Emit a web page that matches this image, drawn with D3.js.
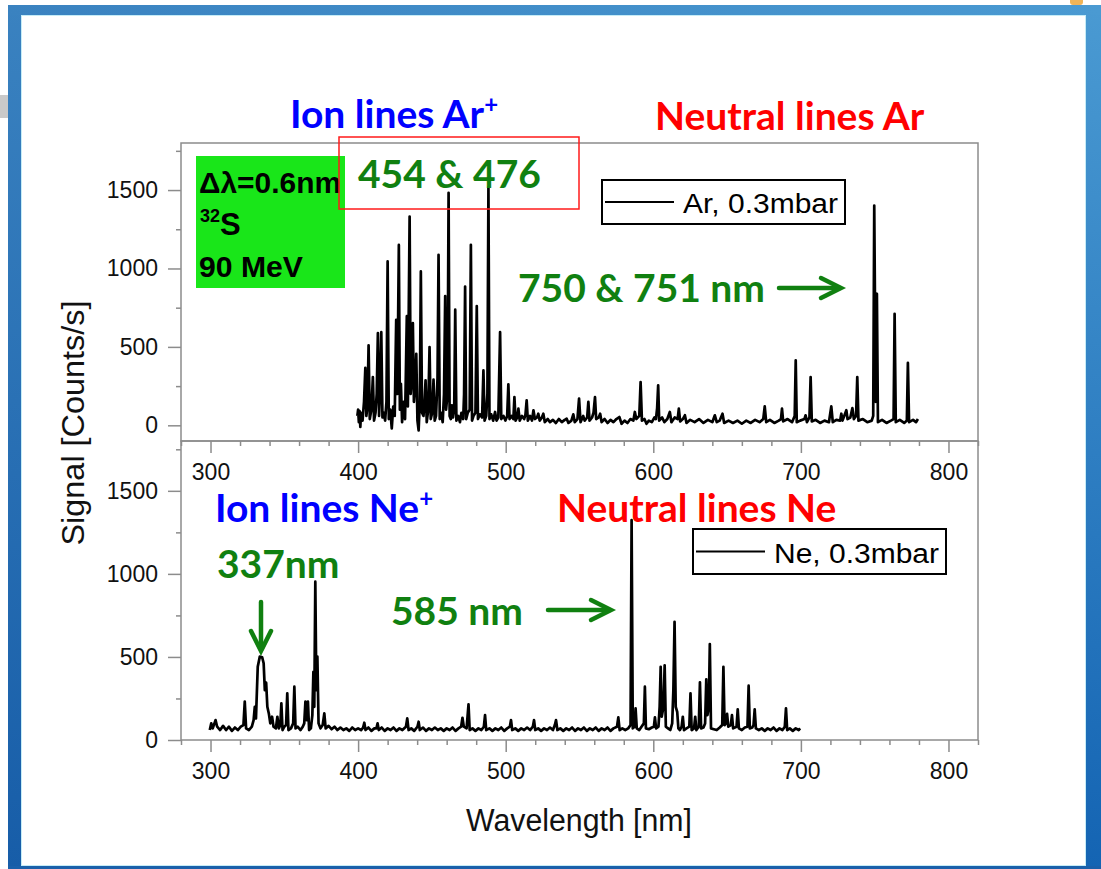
<!DOCTYPE html>
<html>
<head>
<meta charset="utf-8">
<script src="https://cdn.jsdelivr.net/npm/d3@7"></script>
<style>
  html, body { margin: 0; padding: 0; background: #fff; }
  svg { display: block; }
  .axis text { font-family: "Liberation Sans", Arial, sans-serif; font-size: 23px; fill: #111; }
  .axis line { stroke: #8c8c8c; stroke-width: 1.5; }
  .axis path { display: none; }
  .note { font-family: Lato, "Open Sans", sans-serif; font-weight: 700; font-size: 39px; }
</style>
</head>
<body>
<div id="chart"></div>
<script>
/* Ar / Ne emission spectra, 32S 90 MeV beam — two stacked panels. */

var xTicks = [300, 400, 500, 600, 700, 800];
var yTicks = [0, 500, 1000, 1500];
var yMinor = [250, 750, 1250, 1750];

/* [wavelength nm, signal counts/s] */
var arSpectrum = [
  [399.5, 60], [400, 100], [400.5, 20], [401, 90], [401.5, -10], [402, 80], [403, 30], [404, 150],
  [404.9, 367], [405.6, 60], [406.3, 120], [407.1, 510], [407.9, 40], [409, 100], [410, 308],
  [410.8, 30], [411.8, 80], [412.6, 200], [413.4, 588], [414.2, 60], [415, 250], [415.7, 594],
  [416.5, 50], [417.5, 80], [418.3, 30], [419.2, 150], [420, 1045], [420.8, 40], [421.8, 100],
  [422.8, -20], [423.8, 120], [424.8, 60], [425.8, 673], [426.6, 200], [427.6, 1150], [428.3, 100],
  [429, 265], [429.8, 20], [430.8, 150], [431.8, 40], [432.3, 300], [433, 696], [433.7, 120],
  [434.9, 1331], [435.6, 200], [436.4, 300], [437.1, 652], [437.8, 150], [438.6, 250], [439.4, 456],
  [440.2, 30], [441, -32], [441.8, 150], [442.5, 981], [443.3, 80], [444.3, 60], [445, 150],
  [445.7, 287], [446.5, 20], [447.5, 100], [448.4, 499], [449.2, 40], [450.2, 80], [451.1, 291],
  [451.9, 30], [452.8, 60], [453.8, 300], [454.5, 1087], [455.3, 40], [456.3, 80], [457.3, 20],
  [458.2, 200], [459, 824], [459.6, 100], [460.6, 200], [461.3, 1482], [462, 60], [462.8, 40],
  [463.5, 127], [464.3, 50], [465.1, 100], [465.8, 737], [466.6, 30], [467.8, 60], [469, 20],
  [470, 80], [471.2, 40], [471.8, 200], [472.5, 885], [473.2, 40], [474.3, 80], [475.6, 100],
  [476.4, 1151], [477.2, 30], [478.2, 60], [479.5, 80], [480.4, 760], [481.2, 40], [482.5, 70],
  [484, 50], [484.9, 350], [485.7, 30], [486.8, 60], [487.6, 200], [488.3, 1518], [489, 40],
  [490.2, 70], [491.5, 30], [492.8, 85], [493.8, 30], [495, 50], [496.2, 594], [497, 40],
  [498.5, 60], [499.8, 30], [501, 60], [501.8, 261], [502.6, 40], [504, 60], [505.2, 40],
  [505.9, 180], [506.7, 30], [507.8, 50], [508.6, 106], [509.5, 30], [511, 60], [512.5, 40],
  [513.4, 70], [514.2, 159], [515, 30], [516.5, 60], [517.8, 30], [518.8, 96], [519.8, 40],
  [521.2, 50], [522.1, 74], [523, 30], [524.5, 50], [525.5, 74], [526.5, 20], [528.5, 40],
  [530, 20], [532, 35], [534, 15], [536, 40], [538, 20], [540, 35], [541.3, 42], [542.5, 15],
  [544.5, 30], [545.8, 70], [546.8, 20], [548.6, 40], [549.7, 170], [550.7, 20], [552.5, 60],
  [553.5, 30], [555.2, 50], [556, 149], [556.8, 30], [558.5, 50], [559.5, 80], [560.5, 180],
  [561.3, 40], [563, 50], [564, 74], [565, 20], [567, 40], [569, 15], [571, 35], [573, 20],
  [575, 40], [577, 53], [578.5, 10], [580.5, 30], [582.5, 15], [584.5, 40], [586.5, 30],
  [587.5, 85], [588.5, 40], [590.5, 60], [591.4, 276], [592.3, 30], [594, 40], [595.4, 10],
  [597, 30], [599, 20], [600.8, 50], [601.8, 40], [602.6, 110], [603.3, 255], [604, 30],
  [606, 50], [607.5, 20], [609.5, 40], [611.2, 85], [612.3, 20], [614.5, 50], [616.5, 40],
  [617.3, 106], [618.2, 25], [620, 40], [621.4, 64], [622.5, 15], [625, 35], [628, 20],
  [631, 40], [634, 15], [637, 35], [640, 20], [641.7, 64], [643, 20], [645, 30], [646.9, 74],
  [648, 15], [651, 30], [654, 15], [657, 30], [660, 10], [663, 30], [666, 15], [669, 35],
  [672, 20], [674.5, 40], [675.5, 121], [676.5, 20], [679, 35], [682, 15], [685, 30],
  [686.5, 40], [687.2, 106], [688, 25], [691, 40], [694, 20], [695.8, 60], [696.5, 414],
  [697.2, 20], [699.5, 30], [702.4, 40], [703.2, 64], [704.1, 20], [705.8, 50], [706.6, 308],
  [707.4, 25], [710, 35], [713, 15], [716, 30], [719, 20], [720.6, 121], [721.6, 20], [724, 35],
  [726.6, 30], [727.4, 74], [728.2, 30], [730.8, 96], [731.6, 40], [733.5, 50], [734.9, 110],
  [735.9, 40], [737.4, 60], [738.2, 308], [739, 30], [742, 40], [745, 20], [748, 30], [749, 60],
  [749.7, 1401], [750.7, 150], [751.5, 839], [752.2, 20], [755, 35], [758, 15], [761, 30],
  [762.8, 40], [763.5, 711], [764.3, 20], [767, 35], [770, 15], [771.8, 30], [772.5, 399],
  [773.3, 20], [776, 35], [778, 20], [779.3, 40]
];

var neSpectrum = [
  [299.5, 60], [300.5, 100], [301.5, 70], [303.4, 120], [304.5, 80], [306.5, 60], [308.5, 85],
  [310.5, 60], [312.5, 80], [314.5, 55], [316.5, 75], [318.5, 60], [320.5, 80], [322.3, 90],
  [323.2, 231], [324.1, 70], [326, 60], [328, 80], [329.2, 120], [330, 200], [330.8, 130],
  [332, 441], [333.4, 502], [335, 498], [336, 462], [336.8, 300], [337.7, 345], [338.5, 200],
  [339.5, 160], [340.5, 100], [341.7, 140], [342.7, 80], [344.3, 70], [345.3, 140], [346.3, 70],
  [347.3, 90], [348, 221], [348.8, 60], [350, 80], [351.2, 90], [352, 281], [352.8, 60],
  [354.5, 70], [356, 100], [356.8, 321], [357.6, 70], [359, 80], [361, 60], [362.5, 80],
  [363.5, 100], [364.3, 231], [365.2, 120], [366, 231], [366.8, 60], [368, 70], [369, 150],
  [369.7, 411], [370.3, 200], [371, 953], [371.7, 300], [372.4, 502], [373.2, 100], [374.5, 70],
  [376, 90], [377.1, 160], [378, 70], [380, 85], [382, 65], [384, 80], [386, 60], [388, 75],
  [390, 60], [392, 70], [394, 55], [396, 75], [398, 60], [400, 70], [402, 60], [403.4, 75],
  [404.2, 104], [405, 60], [407, 75], [409, 55], [411, 70], [412.4, 70], [413.2, 100], [414, 60],
  [416, 75], [418, 55], [420, 70], [422, 60], [424, 75], [426, 55], [428, 70], [430, 60],
  [432.4, 80], [433.3, 130], [434.2, 60], [436, 70], [438, 55], [440.2, 80], [441, 110],
  [441.8, 60], [444, 75], [446, 55], [448, 70], [450, 60], [452, 75], [454, 60], [456, 70],
  [458, 55], [460, 70], [462, 60], [464, 75], [466, 55], [468, 70], [469.8, 80], [470.7, 134],
  [471.6, 80], [473.5, 70], [474.8, 215], [475.6, 60], [477.5, 70], [479.5, 55], [481.5, 70],
  [483.5, 60], [485.2, 80], [486, 150], [486.8, 60], [489, 70], [491, 55], [493, 70], [495, 60],
  [497, 75], [499, 55], [501, 70], [502.8, 80], [503.6, 120], [504.4, 60], [506.5, 70],
  [508.5, 55], [510.5, 70], [512.5, 60], [514.5, 75], [516.5, 60], [518.4, 80], [519.2, 120],
  [520, 60], [522, 70], [524, 55], [526, 70], [528, 60], [530, 75], [532, 60], [533.3, 90],
  [534.1, 120], [535, 60], [537, 70], [539, 55], [541, 70], [543, 60], [545, 75], [547, 55],
  [549, 70], [551, 60], [553, 75], [555, 55], [557, 70], [559, 60], [561, 75], [563, 55],
  [565, 70], [567, 60], [569, 75], [571, 55], [573, 70], [575.4, 80], [576.3, 136], [577.2, 60],
  [579, 70], [581, 60], [583, 70], [584.6, 90], [585.3, 1324], [586.1, 70], [587.3, 80],
  [588, 190], [588.8, 70], [590.5, 60], [592, 80], [593.6, 100], [594.3, 321], [595, 70],
  [597, 65], [599, 75], [600.4, 80], [601.1, 136], [601.9, 70], [603.5, 80], [604.3, 200],
  [605, 441], [605.7, 140], [606.9, 200], [607.7, 450], [608.5, 80], [610, 70], [611.5, 60],
  [612.8, 100], [613.6, 300], [614.4, 712], [615.2, 200], [616.2, 170], [617, 70], [618, 60],
  [619.2, 80], [620, 140], [620.8, 60], [622.5, 70], [624.4, 80], [625.2, 281], [626, 60],
  [627.6, 70], [628.4, 140], [629.2, 60], [630.8, 80], [631.6, 347], [632.4, 70], [634, 75],
  [635.1, 100], [635.9, 365], [636.7, 150], [637.6, 200], [638.3, 578], [639.1, 70], [641, 65],
  [643, 60], [645, 75], [646.7, 90], [647.5, 441], [648.3, 90], [649.2, 100], [650, 157],
  [650.8, 80], [652.5, 90], [653.3, 150], [654.1, 70], [656.4, 80], [657.2, 185], [658, 70],
  [660, 60], [662, 75], [663.8, 80], [664.6, 327], [665.4, 70], [667, 75], [667.9, 90],
  [668.7, 185], [669.5, 70], [671.5, 60], [673.5, 70], [675.5, 55], [677.5, 70], [679.5, 60],
  [681.5, 75], [683.5, 55], [685.5, 70], [687.5, 60], [689.1, 80], [689.9, 190], [690.7, 60],
  [692.5, 70], [694.5, 55], [696.5, 70], [698.5, 60], [699.5, 70]
];

var W = 1101, H = 869;
var green = "#108010";

var svg = d3.select("#chart").append("svg").attr("width", W).attr("height", H);
var defs = svg.append("defs");

function grad(id, x2, y2, c1, c2) {
  var g = defs.append("linearGradient").attr("id", id)
    .attr("x1", 0).attr("y1", 0).attr("x2", x2).attr("y2", y2);
  g.append("stop").attr("offset", "0%").attr("stop-color", c1);
  g.append("stop").attr("offset", "100%").attr("stop-color", c2);
}
grad("gLeft", 0, 1, "#3a82c0", "#175da8");
grad("gRight", 0, 1, "#4a9ad2", "#1464b3");
grad("gTop", 1, 0, "#3a82c0", "#4a9ad2");

/* slide frame */
svg.append("rect").attr("x", 0).attr("y", 95).attr("width", 8).attr("height", 23).attr("fill", "#c9c9c9");
svg.append("rect").attr("x", 1070).attr("y", -4).attr("width", 13).attr("height", 9).attr("rx", 3).attr("fill", "#f0b458");
svg.append("rect").attr("x", 8).attr("y", 5).attr("width", 13).attr("height", 864).attr("fill", "url(#gLeft)");
svg.append("rect").attr("x", 1086).attr("y", 5).attr("width", 15).attr("height", 864).attr("fill", "url(#gRight)");
svg.append("rect").attr("x", 8).attr("y", 5).attr("width", 1093).attr("height", 10).attr("fill", "url(#gTop)");
svg.append("rect").attr("x", 8).attr("y", 866).attr("width", 1093).attr("height", 3).attr("fill", "#1a60aa");
svg.append("rect").attr("x", 21.5).attr("y", 15.5).attr("width", 1064).attr("height", 850)
  .attr("fill", "none").attr("stroke", "#c5ecf7").attr("stroke-width", 1);

/* scales */
var x = d3.scaleLinear().domain([280, 820]).range([181, 978]);
var yTop = d3.scaleLinear().domain([-100, 1800]).range([441, 143]);
var yBot = d3.scaleLinear().domain([0, 1800]).range([740, 441]);
var xMinor = d3.range(280, 821, 20).filter(function (v) { return xTicks.indexOf(v) < 0; });
var fmt = d3.format("d");

function panel(y, y0, y1) {
  svg.append("rect").attr("x", x.range()[0]).attr("y", y1).attr("width", x.range()[1] - x.range()[0])
    .attr("height", y0 - y1).attr("fill", "none").attr("stroke", "#8c8c8c").attr("stroke-width", 1.5);
  svg.append("g").attr("class", "axis").attr("transform", "translate(181,0)")
    .call(d3.axisLeft(y).tickValues(yTicks).tickSize(13).tickPadding(10).tickFormat(fmt));
  svg.append("g").attr("class", "axis").attr("transform", "translate(181,0)")
    .call(d3.axisLeft(y).tickValues(yMinor).tickSize(5).tickFormat(""));
  svg.append("g").attr("class", "axis").attr("transform", "translate(0," + y0 + ")")
    .call(d3.axisBottom(x).tickValues(xTicks).tickSize(12).tickPadding(11).tickFormat(fmt));
  svg.append("g").attr("class", "axis").attr("transform", "translate(0," + y0 + ")")
    .call(d3.axisBottom(x).tickValues(xMinor).tickSize(5).tickFormat(""));
}
panel(yTop, 441, 143);
panel(yBot, 740, 441);

function spectrum(data, y) {
  var line = d3.line()
    .x(function (d) { return x(d[0]); })
    .y(function (d) { return y(d[1]); });
  svg.append("path").datum(data)
    .attr("fill", "none").attr("stroke", "#000").attr("stroke-width", 2.7)
    .attr("stroke-linejoin", "round").attr("d", line);
}
spectrum(arSpectrum, yTop);
spectrum(neSpectrum, yBot);

/* axis titles */
svg.append("text").attr("transform", "translate(84,423) rotate(-90)")
  .attr("text-anchor", "middle").attr("font-family", "Liberation Sans, Arial, sans-serif")
  .attr("font-size", 31).attr("textLength", 245).attr("lengthAdjust", "spacingAndGlyphs")
  .attr("fill", "#111").text("Signal [Counts/s]");
svg.append("text").attr("x", 579).attr("y", 831)
  .attr("text-anchor", "middle").attr("font-family", "Liberation Sans, Arial, sans-serif")
  .attr("font-size", 31).attr("textLength", 226).attr("lengthAdjust", "spacingAndGlyphs")
  .attr("fill", "#111").text("Wavelength [nm]");

/* legends */
function legend(bx, by, bw, bh, label) {
  svg.append("rect").attr("x", bx).attr("y", by).attr("width", bw).attr("height", bh)
    .attr("fill", "#fff").attr("stroke", "#000").attr("stroke-width", 2);
  svg.append("line").attr("x1", bx + 3).attr("x2", bx + 72).attr("y1", by + bh / 2).attr("y2", by + bh / 2)
    .attr("stroke", "#000").attr("stroke-width", 2);
  svg.append("text").attr("x", bx + 81).attr("y", by + bh / 2 + 11)
    .attr("font-family", "Liberation Sans, Arial, sans-serif").attr("font-size", 27)
    .attr("textLength", bw - 88).attr("lengthAdjust", "spacingAndGlyphs")
    .attr("fill", "#000").text(label);
}
legend(602, 180, 243, 44, "Ar, 0.3mbar");
legend(693, 529, 253, 45, "Ne, 0.3mbar");

/* green info box */
svg.append("rect").attr("x", 196).attr("y", 156).attr("width", 149).attr("height", 132).attr("fill", "#19e619");
var info = svg.append("g").attr("font-family", "Liberation Sans, Arial, sans-serif")
  .attr("font-weight", 700).attr("fill", "#000");
info.append("text").attr("x", 199).attr("y", 193).attr("font-size", 29)
  .attr("textLength", 142).attr("lengthAdjust", "spacingAndGlyphs").text("Δλ=0.6nm");
var s32 = info.append("text").attr("x", 200).attr("y", 235);
s32.append("tspan").attr("font-size", 18).attr("dy", -13).text("32");
s32.append("tspan").attr("font-size", 31).attr("dy", 13).text("S");
info.append("text").attr("x", 199).attr("y", 277).attr("font-size", 30)
  .attr("textLength", 104).attr("lengthAdjust", "spacingAndGlyphs").text("90 MeV");

/* red highlight box */
svg.append("rect").attr("x", 339).attr("y", 137).attr("width", 240).attr("height", 72)
  .attr("fill", "none").attr("stroke", "#ff1a1a").attr("stroke-width", 1.5);

/* coloured annotations */
function note(tx, ty, color, main, sup) {
  var t = svg.append("text").attr("class", "note").attr("x", tx).attr("y", ty).attr("fill", color);
  t.append("tspan").text(main);
  if (sup) t.append("tspan").attr("font-size", 24).attr("dy", -15).text(sup);
  return t;
}
note(290, 128, "#0000ff", "Ion lines Ar", "+");
note(655, 130, "#ff0000", "Neutral lines Ar");
note(358, 188, green, "454 & 476");
note(518, 302, green, "750 & 751 nm");
note(215, 522, "#0000ff", "Ion lines Ne", "+");
note(557, 522, "#ff0000", "Neutral lines Ne");
note(217, 578, green, "337nm");
note(391, 625, green, "585 nm");

/* arrows */
function arrow(pts, head) {
  svg.append("path").attr("d", d3.line()(pts)).attr("fill", "none")
    .attr("stroke", green).attr("stroke-width", 4.5).attr("stroke-linecap", "round");
  svg.append("path").attr("d", d3.line()(head)).attr("fill", "none")
    .attr("stroke", green).attr("stroke-width", 4.5).attr("stroke-linecap", "round").attr("stroke-linejoin", "miter");
}
arrow([[779, 288], [840, 288]], [[821, 278], [841, 288], [821, 298]]);
arrow([[548, 610], [610, 610]], [[591, 600], [611, 610], [591, 620]]);
arrow([[261, 602], [261, 650]], [[251, 631], [261, 651], [271, 631]]);
</script>
</body>
</html>
